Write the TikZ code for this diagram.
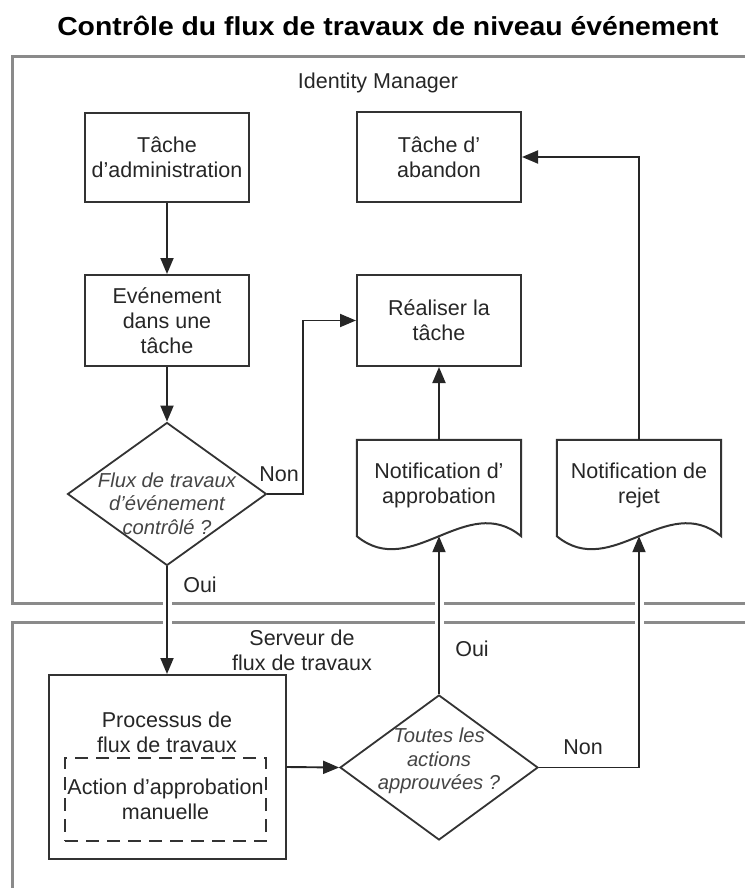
\documentclass[tikz,border=0pt]{standalone}
\usepackage{fontspec}
\setmainfont{Liberation Sans}
\usetikzlibrary{shapes.geometric,arrows.meta,calc}

\definecolor{ink}{HTML}{262626}
\definecolor{edge}{HTML}{333333}
\definecolor{panel}{HTML}{8A8A8A}
\definecolor{qink}{HTML}{454545}

\begin{document}
\begin{tikzpicture}[x=1pt,y=-1pt,
  every node/.style={text=ink, font=\fontsize{21.5}{25}\selectfont, align=center, inner sep=0pt},
  box/.style={draw=edge, line width=2pt, rectangle, minimum width=164pt, minimum height=90pt},
  docbox/.style={rectangle, minimum width=164pt, minimum height=90pt},
  docline/.style={draw=edge, line width=2pt, line join=miter},
  dia/.style={draw=edge, line width=1.8pt, diamond, minimum width=199pt, minimum height=143pt},
  qtext/.style={text=qink, font=\fontsize{20.2}{23.5}\selectfont\itshape},
  manualbox/.style={draw=edge, line width=2pt, dash pattern=on 13pt off 8pt, rectangle,
    minimum width=201pt, minimum height=83pt},
  arr/.style={draw=ink, line width=1.9pt, -{Triangle[length=16pt,width=13pt]}},
  panelline/.style={draw=panel, line width=3pt},
]
\useasboundingbox (0,0) rectangle (744,888);

% swimlanes
\draw[panelline] (760,57) -- (12,57) -- (12,603) -- (760,603);
\draw[panelline] (760,622) -- (12,622) -- (12,900);
% breaks in the lane borders where the flow passes through
\foreach \gx in {167,439,639}
  \fill[white] (\gx-4.5,599) rectangle (\gx+4.5,626);

% titles
\node[anchor=base, font=\fontsize{26}{30}\selectfont\bfseries, text=black] (title) at (388,36)
  {\scalebox{1.09}[1]{Contrôle du flux de travaux de niveau événement}};
\node[anchor=base] (idm) at (378,89) {Identity Manager};
\node (srv) at (302,650) {Serveur de\\flux de travaux};

% Identity Manager lane
\node[box, minimum height=89pt] (adm) at (167,157.5) {Tâche\\d'administration};
\node[box, minimum height=91pt] (evt) at (167,320.5) {Evénement\\dans une\\tâche};
\node[box] (aband) at (439,157) {Tâche d'\\abandon};
\node[box, minimum height=91pt] (real) at (439,320.5) {Réaliser la\\tâche};

\node[dia] (q1) at (167,494) {};
\node[qtext] (q1t) at (167,503.5) {Flux de travaux\\d'événement\\contrôlé ?};

% documents
\node[docbox] (appr) at (439,485) {Notification d'\\approbation};
\coordinate (apprb) at ($(appr.south)+(0,6)$);
\draw[docline] ($(appr.south east)+(0,6)$) .. controls +(-54.7,-45) and +(54.7,45) ..
  ($(appr.south west)+(0,6)$) -- (appr.north west) -- (appr.north east) -- cycle;

\node[docbox] (rej) at (639,485) {Notification de\\rejet};
\coordinate (rejb) at ($(rej.south)+(0,6)$);
\draw[docline] ($(rej.south east)+(0,6)$) .. controls +(-54.7,-45) and +(54.7,45) ..
  ($(rej.south west)+(0,6)$) -- (rej.north west) -- (rej.north east) -- cycle;

% workflow server lane
\node[box, minimum width=237pt, minimum height=184pt] (proc) at (167,767) {};
\node (proct) at (167,732.5) {Processus de\\flux de travaux};
\node[manualbox] (manual) at (165.5,799.5) {Action d'approbation\\manuelle};

\node[dia, minimum width=198pt, minimum height=145pt] (q2) at (439,767.5) {};
\node[qtext] (q2t) at (439,761) {Toutes les\\actions\\approuvées ?};

% connectors
\coordinate (nonbend) at (303,494);
\draw[arr] (adm) -- (evt);
\draw[arr] (evt) -- (q1);
\draw[arr] (q1.east) -- (nonbend) |- (real.west);
\draw[arr] (q1.south) -- (proc.north);
\draw[arr] (proc.east) -- (q2.west);
\draw[arr] (q2.north) -- (apprb);
\draw[arr] (appr.north) -- (real.south);
\draw[arr] (q2.east) -| (rejb);
\draw[arr] (rej.north) |- (aband.east);

% branch labels
\node (non1) at (279,474) {Non};
\node (oui1) at (200,585) {Oui};
\node (oui2) at (472,649) {Oui};
\node (non2) at (583,747) {Non};
\end{tikzpicture}
\end{document}
